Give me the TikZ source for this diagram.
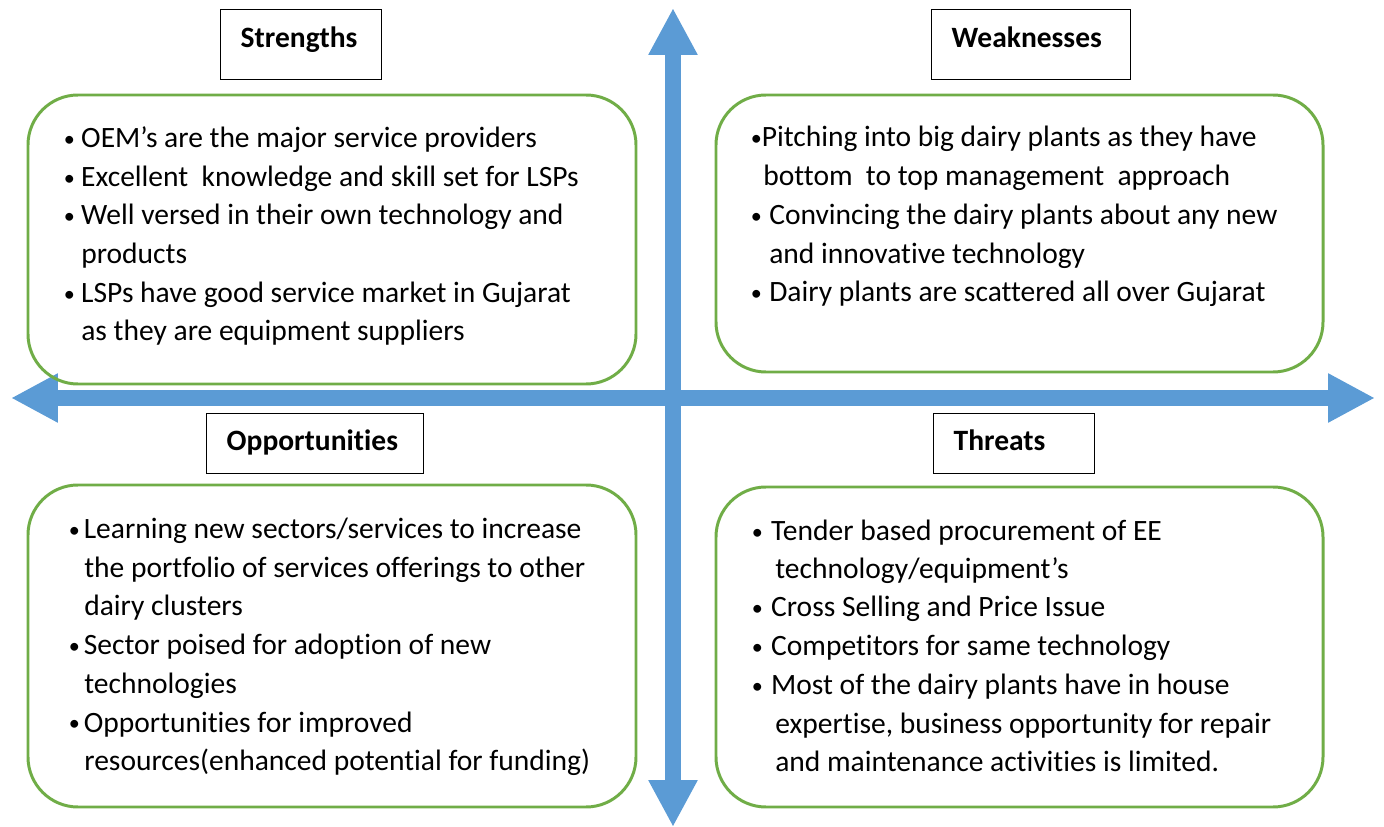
\documentclass[tikz,border=0pt]{standalone}
\usepackage{fontspec}
\setmainfont{Carlito}[Ligatures=NoCommon]
\usepackage{xcolor}
\usepackage{graphicx}
\definecolor{swotblue}{HTML}{5B9BD5}
\definecolor{swotgreen}{HTML}{70AD47}
\usetikzlibrary{arrows.meta,positioning}
\newcommand{\bul}[1]{\makebox[#1][l]{\raisebox{1pt}{\scalebox{0.75}{\textbullet}}}}

\begin{document}
\begin{tikzpicture}[x=0.02cm, y=-0.02cm,
    item/.style={font=\fontsize{16.8pt}{21.9pt}\selectfont, anchor=base west, inner sep=0},
    headbox/.style={draw, line width=0.8pt, font=\fontsize{16.8pt}{21.9pt}\selectfont\bfseries,
      anchor=north west, inner xsep=0.4cm, inner ysep=0, align=left},
    quad/.style={draw=swotgreen, line width=1.7pt, rounded corners=1cm},
    bigarrow/.style={draw=swotblue, line width=0.32cm,
      {Triangle[length=0.94cm,width=0.92cm]}-{Triangle[length=0.94cm,width=0.92cm]}}]
        \useasboundingbox (0,0) rectangle (1384,827);
        % axes
        \coordinate (axW) at (11,398);
        \coordinate (axE) at (1375,398);
        \coordinate (axN) at (673,8);
        \coordinate (axS) at (673,827);
        \draw[bigarrow] (axW) -- (axE);
        \draw[bigarrow] (axN) -- (axS);
        % quadrants
        \draw[quad] (28,95) rectangle (636,384);
        \draw[quad] (716,95) rectangle (1323,372);
        \draw[quad] (28,485) rectangle (636,807);
        \draw[quad] (716,487) rectangle (1323,807);
        % headings
        \node[headbox, text width=2.42cm, text height=0.76cm, text depth=0.64cm] (strT) at (220,9) {Strengths};
        \node[headbox, text width=3.18cm, text height=0.76cm, text depth=0.64cm] (weakT) at (931,9) {Weaknesses};
        \node[headbox, text width=3.54cm, text height=0.74cm, text depth=0.46cm] (oppT) at (206,413) {Opportunities};
        \node[headbox, text width=2.42cm, text height=0.74cm, text depth=0.46cm] (thrT) at (933,413) {Threats};
        % strengths
        \node[item] (s1) at (63.5,148) {\bul{9.9pt}OEM’s are the major service providers};
        \node[item] (s2) at (63.5,187) {\bul{9.9pt}Excellent\ \ knowledge and skill set for LSPs};
        \node[item] (s3) at (63.5,225) {\bul{9.9pt}Well versed in their own technology and};
        \node[item] (s4) at (81,264) {products};
        \node[item] (s5) at (63.5,303) {\bul{9.9pt}LSPs have good service market in Gujarat};
        \node[item] (s6) at (81,341) {as they are equipment suppliers};
        % weaknesses
        \node[item] (w1) at (750.5,147) {\bul{6.2pt}Pitching into big dairy plants as they have};
        \node[item] (w2) at (763,186) {bottom\ \ to top management\ \ approach};
        \node[item] (w3) at (750.5,225) {\bul{10.5pt}Convincing the dairy plants about any new};
        \node[item] (w4) at (769,264) {and innovative technology};
        \node[item] (w5) at (750.5,302) {\bul{10.5pt}Dairy plants are scattered all over Gujarat};
        % opportunities
        \node[item] (o1) at (68.5,539) {\bul{8.5pt}Learning new sectors/services to increase};
        \node[item] (o2) at (84,578) {the portfolio of services offerings to other};
        \node[item] (o3) at (84,616) {dairy clusters};
        \node[item] (o4) at (68.5,655) {\bul{8.5pt}Sector poised for adoption of new};
        \node[item] (o5) at (84,694) {technologies};
        \node[item] (o6) at (68.5,732) {\bul{8.5pt}Opportunities for improved};
        \node[item] (o7) at (84,770) {resources(enhanced potential for funding)};
        % threats
        \node[item] (t1) at (751.5,541) {\bul{11pt}Tender based procurement of EE};
        \node[item] (t2) at (775,579) {technology/equipment’s};
        \node[item] (t3) at (751.5,617) {\bul{11pt}Cross Selling and Price Issue};
        \node[item] (t4) at (751.5,656) {\bul{11pt}Competitors for same technology};
        \node[item] (t5) at (751.5,695) {\bul{11pt}Most of the dairy plants have in house};
        \node[item] (t6) at (775,733) {expertise, business opportunity for repair};
        \node[item] (t7) at (775,771) {and maintenance activities is limited.};
      \end{tikzpicture}
\end{document}
